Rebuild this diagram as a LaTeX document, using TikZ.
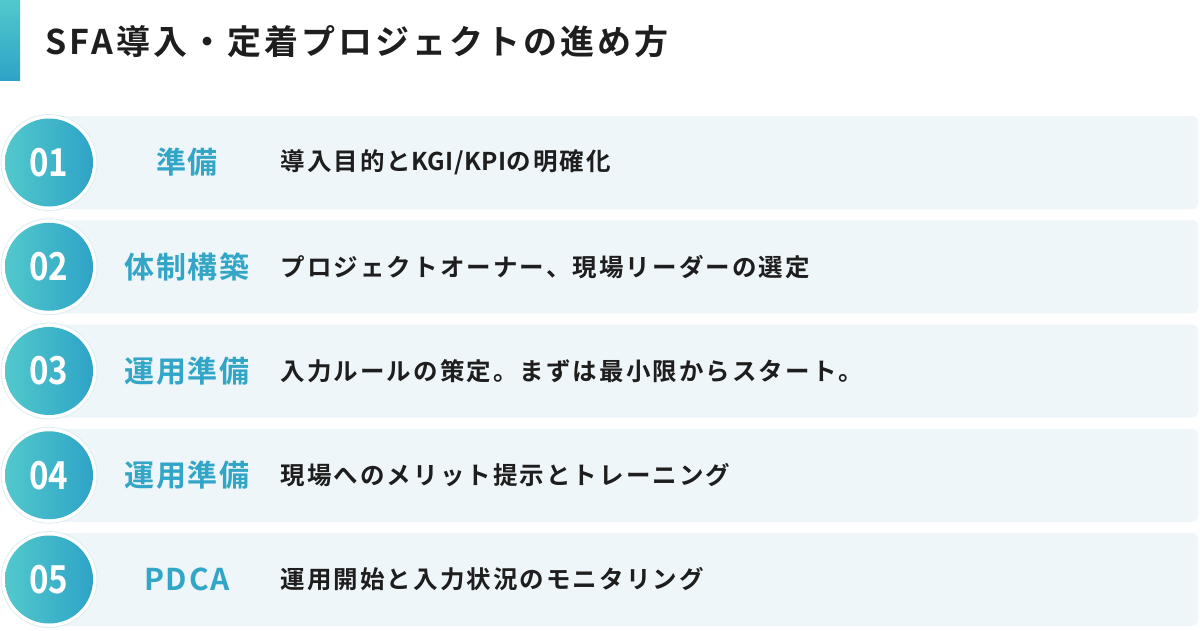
\documentclass[tikz,border=0pt]{standalone}
\usepackage{fontspec}
\newfontfamily\jpb{Noto Sans CJK JP Bold}
\newfontfamily\jpttl{Noto Sans CJK JP Bold}[LetterSpace=9]
\newfontfamily\jplbl{Noto Sans CJK JP Bold}[LetterSpace=6]
\newfontfamily\jpbs{Noto Sans CJK JP Bold}[LetterSpace=8.5]
\newfontfamily\jplat{Noto Sans CJK JP Bold}[LetterSpace=2]
\definecolor{accA}{HTML}{52C8CC}
\definecolor{accB}{HTML}{2EA3C7}
\definecolor{rowbg}{HTML}{EEF6F9}
\definecolor{lbl}{HTML}{33A6C8}
\definecolor{ink}{HTML}{1E1E1E}
\definecolor{ring}{HTML}{DCEDF2}
\tikzset{
  rowbox/.style={fill=rowbg, rounded corners=6pt, draw=none},
  ringc/.style={circle, fill=white, draw=ring, line width=0.8pt, minimum size=96pt, inner sep=0pt},
  numc/.style={circle, left color=accA, right color=accB, minimum size=88pt, inner sep=0pt, text=white, font=\jpb\fontsize{38.5}{40}\selectfont},
  lblt/.style={text=lbl, font=\jplbl\fontsize{30}{34}\selectfont, anchor=center},
  desc/.style={text=ink, font=\jpbs\fontsize{24.5}{28}\selectfont, anchor=west},
}
\begin{document}
\begin{tikzpicture}[x=1pt,y=-1pt]
\useasboundingbox (0,0) rectangle (1200,630);
\fill[white] (0,0) rectangle (1200,630);
\shade[top color=accA, bottom color=accB] (0,0) rectangle (20,80);
\node[anchor=west, text=ink, font=\jpttl\fontsize{34}{38}\selectfont] (title) at (42,42) {SFA導入・定着プロジェクトの進め方};
\foreach \i/\num/\lab/\txt in {
 0/01/{準備}/{導入目的と{\jplat KGI/KPI}の明確化},
 1/02/{体制構築}/{プロジェクトオーナー、現場リーダーの選定},
 2/03/{運用準備}/{入力ルールの策定。まずは最小限からスタート。},
 3/04/{運用準備}/{現場へのメリット提示とトレーニング},
 4/05/{PDCA}/{運用開始と入力状況のモニタリング}}{
  \pgfmathsetmacro{\top}{116+104.25*\i}
  \pgfmathsetmacro{\cy}{\top+46.5}
  \fill[rowbox] (48,\top) rectangle (1198,\top+93);
  \node[ringc] (r\i) at (49,\cy) {};
  \node[numc] (n\i) at (49,\cy) {\scalebox{0.86}[1]{\num}};
  \node[lblt] (l\i) at (187,\cy) {\lab};
  \node[desc] (d\i) at (277,\cy) {\txt};
}
\end{tikzpicture}
\end{document}
